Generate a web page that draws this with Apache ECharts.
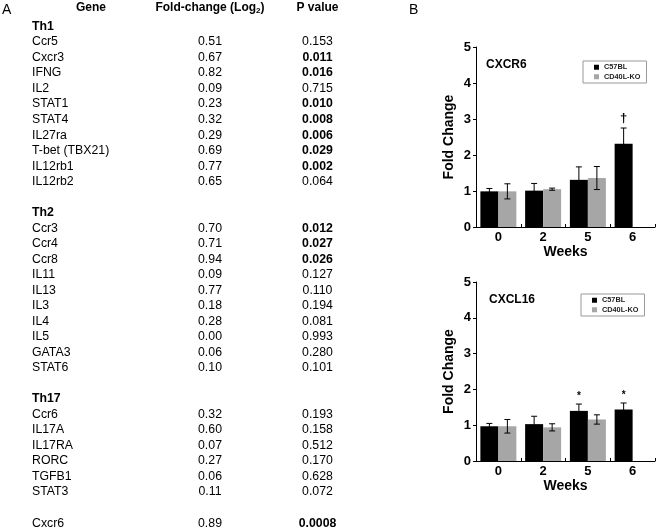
<!DOCTYPE html>
<html>
<head>
<meta charset="utf-8">
<script src="https://cdn.jsdelivr.net/npm/echarts@6/dist/echarts.min.js"></script>
<style>
html,body{margin:0;padding:0;background:#fff;}
#chart{width:657px;height:530px;}
</style>
</head>
<body>
<div id="chart"></div>
<script>
// ---------- Panel A: table data ----------
const th1Genes = ['Ccr5','Cxcr3','IFNG','IL2','STAT1','STAT4','IL27ra','T-bet (TBX21)','IL12rb1','IL12rb2'];
const th1Fold  = [0.51, 0.67, 0.82, 0.09, 0.23, 0.32, 0.29, 0.69, 0.77, 0.65];
const th1P     = [0.153, 0.011, 0.016, 0.715, 0.010, 0.008, 0.006, 0.029, 0.002, 0.064];
const th2Genes = ['Ccr3','Ccr4','Ccr8','IL11','IL13','IL3','IL4','IL5','GATA3','STAT6'];
const th2Fold  = [0.70, 0.71, 0.94, 0.09, 0.77, 0.18, 0.28, 0.00, 0.06, 0.10];
const th2P     = [0.012, 0.027, 0.026, 0.127, 0.110, 0.194, 0.081, 0.993, 0.280, 0.101];
const th17Genes = ['Ccr6','IL17A','IL17RA','RORC','TGFB1','STAT3'];
const th17Fold  = [0.32, 0.60, 0.07, 0.27, 0.06, 0.11];
const th17P     = [0.193, 0.158, 0.512, 0.170, 0.628, 0.072];
const extraGenes = ['Cxcr6'];
const extraFold  = [0.89];
const extraP     = [0.0008];

// ---------- Panel B: bar chart data ----------
const weeks = ['0','2','5','6'];
const seriesNames = ['C57BL','CD40L-KO'];
const cxcr6C57    = [0.99, 1.01, 1.31, 2.31];
const cxcr6C57Err = [0.08, 0.20, 0.36, 0.44];
const cxcr6KO     = [0.99, 1.05, 1.36, null];
const cxcr6KOErr  = [0.21, 0.03, 0.32, null];
const cxcr6Marks  = ['', '', '', '\u2020'];
const cxcl16C57    = [0.97, 1.03, 1.40, 1.44];
const cxcl16C57Err = [0.08, 0.22, 0.19, 0.18];
const cxcl16KO     = [0.97, 0.94, 1.16, null];
const cxcl16KOErr  = [0.19, 0.10, 0.13, null];
const cxcl16Marks  = ['', '', '*', '*'];

const FONT = '"Liberation Sans", Arial, sans-serif';
const BLACK = '#000';
const GRAY = '#a6a6a6';
const BAR_W = 18;

// ---------- build table graphics ----------
const ROW0 = 26.5, ROW_H = 15.52;
const X_GENE = 32, X_FOLD = 210, X_P = 317.5;
const graphics = [];
function txt(str, x, y, opts) {
  graphics.push({
    type: 'text', silent: true,
    style: Object.assign({
      text: str, x: x, y: y, fill: '#000', fontFamily: FONT, fontSize: 12.3,
      fontWeight: 'normal', align: 'left', verticalAlign: 'middle'
    }, opts || {})
  });
}
function fmtP(p) { return p < 0.001 ? p.toFixed(4) : p.toFixed(3); }
let row = 0;
function section(title, genes, fold, pv) {
  if (title) { txt(title, X_GENE, ROW0 + row * ROW_H, {fontWeight: 'bold'}); row++; }
  genes.forEach(function (g, i) {
    const y = ROW0 + row * ROW_H;
    txt(g, X_GENE, y);
    txt(fold[i].toFixed(2), X_FOLD, y, {align: 'center'});
    txt(fmtP(pv[i]), X_P, y, {align: 'center', fontWeight: pv[i] < 0.05 ? 'bold' : 'normal'});
    row++;
  });
  row++;
}
section('Th1', th1Genes, th1Fold, th1P);
section('Th2', th2Genes, th2Fold, th2P);
section('Th17', th17Genes, th17Fold, th17P);
section(null, extraGenes, extraFold, extraP);

// headers
txt('Gene', 91, 7.5, {align: 'center', fontWeight: 'bold', fontSize: 12});
txt('P value', X_P, 7.5, {align: 'center', fontWeight: 'bold', fontSize: 12});
graphics.push({
  type: 'text', silent: true,
  style: {
    text: '{b|Fold-change (Log}{s|2}{b|)}', x: X_FOLD, y: 7.5, align: 'center', verticalAlign: 'middle',
    rich: {
      b: {fontFamily: FONT, fontSize: 12, fontWeight: 'bold', fill: '#000', lineHeight: 14, verticalAlign: 'middle'},
      s: {fontFamily: FONT, fontSize: 8, fontWeight: 'bold', fill: '#000', lineHeight: 8, verticalAlign: 'bottom'}
    }
  }
});
// panel letters
txt('A', 2, 10, {fontSize: 14});
txt('B', 409, 10, {fontSize: 14});

// ---------- error-bar custom series ----------
function errData(vals, errs, side) {
  const out = [];
  vals.forEach(function (v, i) { if (v != null) out.push([i, v, errs[i], side]); });
  return out;
}
function makeRender(marks) {
  return function (params, api) {
    const idx = api.value(0), v = api.value(1), e = api.value(2), side = api.value(3);
    const top = api.coord([idx, v + e]);
    const bot = api.coord([idx, v - e]);
    const x = top[0] + side * BAR_W / 2;
    const cap = 3;
    const st = {stroke: '#000', lineWidth: 1};
    const children = [
      {type: 'line', shape: {x1: x, y1: top[1], x2: x, y2: bot[1]}, style: st},
      {type: 'line', shape: {x1: x - cap, y1: top[1], x2: x + cap, y2: top[1]}, style: st},
      {type: 'line', shape: {x1: x - cap, y1: bot[1], x2: x + cap, y2: bot[1]}, style: st}
    ];
    const m = side < 0 ? marks[idx] : '';
    if (m) {
      const isStar = m === '*';
      children.push({
        type: 'text',
        style: {
          text: m, x: x, y: top[1] - (isStar ? 8 : 10), align: 'center', verticalAlign: 'middle',
          fontFamily: FONT, fontWeight: 'bold', fontSize: isStar ? 10 : 13, fill: '#000'
        }
      });
    }
    return {type: 'group', children: children};
  };
}

function xAxisCfg(gi) {
  return {
    type: 'category', gridIndex: gi, data: weeks,
    axisLine: {lineStyle: {color: BLACK, width: 1}},
    axisTick: {show: true, inside: true, length: 3, lineStyle: {color: BLACK}},
    axisLabel: {color: BLACK, fontFamily: FONT, fontWeight: 'bold', fontSize: 13, margin: 4},
    name: 'Weeks', nameLocation: 'middle', nameGap: 18,
    nameTextStyle: {color: BLACK, fontFamily: FONT, fontWeight: 'bold', fontSize: 14}
  };
}
function yAxisCfg(gi) {
  return {
    type: 'value', gridIndex: gi, min: 0, max: 5, interval: 1,
    splitLine: {show: false},
    axisLine: {show: true, lineStyle: {color: BLACK, width: 1}},
    axisTick: {show: true, length: 3, lineStyle: {color: BLACK}},
    axisLabel: {color: BLACK, fontFamily: FONT, fontWeight: 'bold', fontSize: 13, margin: 5},
    name: 'Fold Change', nameLocation: 'middle', nameGap: 20,
    nameTextStyle: {color: BLACK, fontFamily: FONT, fontWeight: 'bold', fontSize: 14}
  };
}
function legendCfg(left, top) {
  return {
    data: seriesNames, left: left, top: top, orient: 'vertical',
    icon: 'rect', itemWidth: 5, itemHeight: 5, itemGap: 1,
    padding: [2, 6, 2, 11], borderColor: '#999', borderWidth: 1,
    selectedMode: false,
    textStyle: {fontFamily: FONT, fontWeight: 'bold', fontSize: 7.3, color: '#222', lineHeight: 8.5}
  };
}
function barSeries(name, gi, data, color) {
  return {
    name: name, type: 'bar', xAxisIndex: gi, yAxisIndex: gi,
    data: data.map(function (v) { return v == null ? '-' : v; }),
    barWidth: BAR_W, barGap: '0%', itemStyle: {color: color}, silent: true
  };
}
function errSeries(gi, vals, errs, side, marks) {
  return {
    type: 'custom', xAxisIndex: gi, yAxisIndex: gi, z: 5, silent: true,
    data: errData(vals, errs, side), renderItem: makeRender(marks)
  };
}

const option = {
  animation: false,
  textStyle: {fontFamily: FONT},
  title: [
    {text: 'CXCR6', left: 486, top: 59, padding: 0, textStyle: {fontFamily: FONT, fontWeight: 'bold', fontSize: 12, color: BLACK}},
    {text: 'CXCL16', left: 489, top: 294, padding: 0, textStyle: {fontFamily: FONT, fontWeight: 'bold', fontSize: 12, color: BLACK}}
  ],
  legend: [legendCfg(583, 61), legendCfg(581, 294)],
  grid: [
    {left: 476, top: 47, width: 179, height: 180},
    {left: 476, top: 282, width: 179, height: 179}
  ],
  xAxis: [xAxisCfg(0), xAxisCfg(1)],
  yAxis: [yAxisCfg(0), yAxisCfg(1)],
  series: [
    barSeries(seriesNames[0], 0, cxcr6C57, BLACK),
    barSeries(seriesNames[1], 0, cxcr6KO, GRAY),
    errSeries(0, cxcr6C57, cxcr6C57Err, -1, cxcr6Marks),
    errSeries(0, cxcr6KO, cxcr6KOErr, 1, cxcr6Marks),
    barSeries(seriesNames[0], 1, cxcl16C57, BLACK),
    barSeries(seriesNames[1], 1, cxcl16KO, GRAY),
    errSeries(1, cxcl16C57, cxcl16C57Err, -1, cxcl16Marks),
    errSeries(1, cxcl16KO, cxcl16KOErr, 1, cxcl16Marks)
  ],
  graphic: graphics
};
const chart = echarts.init(document.getElementById('chart'), null, {renderer: 'canvas'});
chart.setOption(option);
</script>
</body>
</html>
